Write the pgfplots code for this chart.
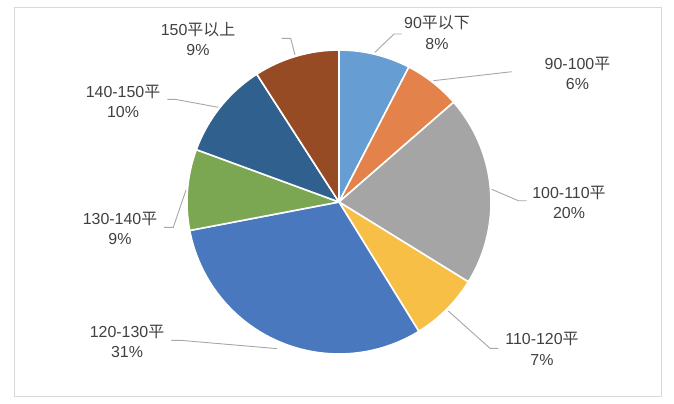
\documentclass[border=0pt]{standalone}
\usepackage{pgfplots}
\pgfplotsset{compat=1.18}
\usepackage{pgfplotstable}
\usepackage{fontspec}
\setmainfont{Liberation Sans}
\newfontfamily\cjk{Noto Sans CJK SC}
\definecolor{c0}{HTML}{669DD3}
\definecolor{c1}{HTML}{E3834B}
\definecolor{c2}{HTML}{A5A5A5}
\definecolor{c3}{HTML}{F8BF47}
\definecolor{c4}{HTML}{4A78BE}
\definecolor{c5}{HTML}{7CA752}
\definecolor{c6}{HTML}{30608E}
\definecolor{c7}{HTML}{964B24}
\definecolor{txt}{HTML}{404040}
\definecolor{lead}{HTML}{A6A6A6}
\definecolor{frame}{HTML}{D9D9D9}

\pgfplotstableread{
idx value
0 7.6
1 6.0
2 20.2
3 7.4
4 30.8
5 8.6
6 10.3
7 9.1
}\piedata

\def\cum{0}
\foreach \i in {0,...,7}{%
  \pgfplotstablegetelem{\i}{value}\of\piedata
  \pgfmathsetmacro{\sa}{90-3.6*\cum}%
  \pgfmathsetmacro{\newcum}{\cum+\pgfplotsretval}%
  \pgfmathsetmacro{\ea}{90-3.6*\newcum}%
  \expandafter\xdef\csname sa\i\endcsname{\sa}%
  \expandafter\xdef\csname ea\i\endcsname{\ea}%
  \xdef\cum{\newcum}%
}

\begin{document}
\begin{tikzpicture}
\begin{axis}[x=1bp,y=1bp,xmin=0,xmax=674,ymin=0,ymax=403,hide axis,clip=false]
\path (axis cs:0,0) rectangle (axis cs:674,403);
\draw[frame,line width=1bp] (axis cs:14,6.3) rectangle (axis cs:661.7,395);
\pgfplotsinvokeforeach{0,...,7}{%
  \filldraw[fill=c#1,draw=white,line width=1.6bp,line join=round]
    (axis cs:339,201) -- ++(\csname sa#1\endcsname:152bp)
    arc[start angle=\csname sa#1\endcsname, end angle=\csname ea#1\endcsname, radius=152bp] -- cycle;
}
\begin{scope}[lead,line width=0.9bp]
\draw (axis cs:375,350.7) -- (axis cs:394,369) -- (axis cs:401.7,369);
\draw (axis cs:433.3,322.3) -- (axis cs:511.7,331.3);
\draw (axis cs:491.7,213.7) -- (axis cs:518.3,202.3) -- (axis cs:526.7,202.3);
\draw (axis cs:448.3,92) -- (axis cs:490,54.7) -- (axis cs:498.3,54.7);
\draw (axis cs:276.8,54.4) -- (axis cs:181.4,62.6) -- (axis cs:171.4,62.6);
\draw (axis cs:186,213) -- (axis cs:173.3,175.7) -- (axis cs:164,175.7);
\draw (axis cs:218.3,295.7) -- (axis cs:175,303.7) -- (axis cs:167.3,303.7);
\draw (axis cs:295,348) -- (axis cs:290.7,364.7) -- (axis cs:281.7,364.7);
\end{scope}
\begin{scope}[every node/.style={align=center,text=txt,font=\fontsize{16}{20.6}\selectfont,inner sep=0pt}]
\node at (axis cs:437,370.5) {90{\cjk 平以下}\\8\%};
\node at (axis cs:577.5,329.5) {90-100{\cjk 平}\\6\%};
\node at (axis cs:569,200.5) {100-110{\cjk 平}\\20\%};
\node at (axis cs:542,54) {110-120{\cjk 平}\\7\%};
\node at (axis cs:127,61.5) {120-130{\cjk 平}\\31\%};
\node at (axis cs:120,174.5) {130-140{\cjk 平}\\9\%};
\node at (axis cs:123,301.5) {140-150{\cjk 平}\\10\%};
\node at (axis cs:198,364) {150{\cjk 平以上}\\9\%};
\end{scope}
\end{axis}
\end{tikzpicture}
\end{document}
